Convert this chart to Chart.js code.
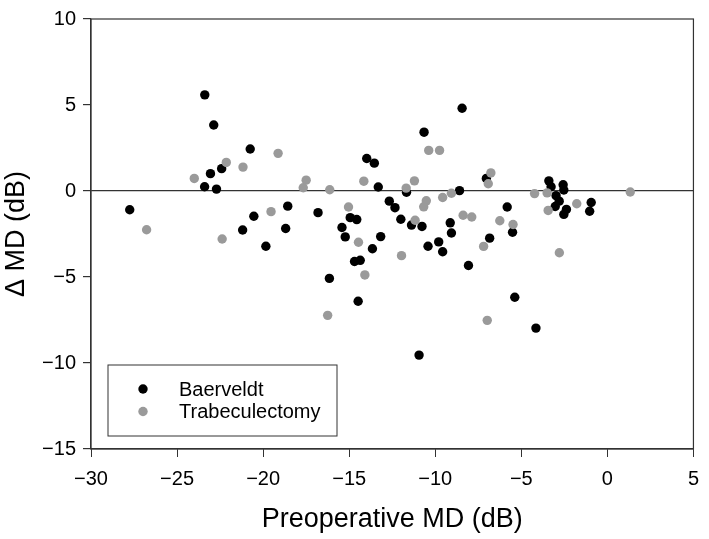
<!DOCTYPE html>
<html lang="en">
<head>
    <meta charset="UTF-8">
    <script src="https://cdn.jsdelivr.net/npm/chart.js"></script>
    <title>Preoperative MD vs change in MD</title>
    <style>
        body {
            margin: 0;
            background: #fff;
        }
    </style>
</head>

<body>
    <canvas id="mdChart" width="709" height="539"></canvas>

    <script>
        // values
        const baerveldtX = [-23.39, -22.87, -20.75, -23.06, -22.41, -23.40, -22.71, -27.75, -18.57, -20.54,
            -21.19, -18.69, -19.84, -8.44, -10.65, -13.98, -13.54, -13.31, -11.67, -8.59,
            -7.03, -16.81, -12.67, -12.34, -14.94, -14.56, -12.00, -15.42, -15.23, -13.17,
            -11.38, -10.77, -9.13, -9.06, -13.65, -10.42, -9.80, -9.57, -6.84, -14.69,
            -14.36, -8.07, -16.15, -14.48, -10.94, -3.40, -2.57, -2.53, -3.27, -2.98,
            -2.80, -3.03, -2.38, -2.53, -0.94, -1.03, -5.82, -5.51, -5.38, -4.15];
        const baerveldtY = [5.59, 3.84, 2.44, 1.01, 1.30, 0.25, 0.11, -1.09, -0.88, -1.47,
            -2.27, -2.18, -3.21, 4.81, 3.42, 1.89, 1.62, 0.23, -0.07, 0.02,
            0.73, -1.26, -0.59, -0.97, -1.55, -1.66, -1.64, -2.12, -2.67, -2.65,
            -1.98, -2.06, -1.85, -2.44, -3.36, -3.21, -2.96, -3.53, -2.74, -4.10,
            -4.03, -4.33, -5.08, -6.41, -9.54, 0.59, 0.36, 0.06, 0.25, -0.27,
            -0.59, -0.90, -1.07, -1.36, -0.67, -1.18, -0.93, -2.40, -6.18, -7.97];

        const trabX = [-19.13, -22.14, -21.17, -24.00, -19.54, -26.77, -22.38, -10.38, -9.75, -17.50,
            -17.67, -16.13, -14.15, -11.69, -11.21, -10.52, -10.67, -9.57, -9.06, -6.77,
            -6.92, -15.04, -11.17, -8.38, -7.88, -14.46, -11.96, -7.19, -6.25, -5.48,
            -4.23, -3.50, 1.33, -1.78, -3.44, -2.79, -14.09, -16.25, -6.98];
        const trabY = [2.19, 1.66, 1.39, 0.73, -1.20, -2.25, -2.79, 2.36, 2.36, 0.63,
            0.19, 0.07, 0.57, 0.17, 0.59, -0.57, -0.92, -0.38, -0.13, 1.05,
            0.42, -0.93, -1.70, -1.41, -1.51, -2.98, -3.76, -3.22, -1.73, -1.95,
            -0.15, -0.11, -0.06, -0.74, -1.13, -3.59, -4.88, -7.23, -7.52];

        const seriesNames = ['Baerveldt', 'Trabeculectomy'];
        const xTitle = 'Preoperative MD (dB)';
        const yTitle = '\u0394 MD (dB)';

        const FONT = '"Liberation Sans", Arial, sans-serif';
        const LINE = '#333';

        function toPoints(xs, ys) {
            return xs.map((x, i) => ({ x: x, y: ys[i] }));
        }

        function minusSign(v) {
            return String(v).replace('-', '\u2212');
        }

        // box round the plot plus the legend box inside it
        const framePlugin = {
            id: 'frame',
            afterDraw(chart) {
                const ctx = chart.ctx;
                const a = chart.chartArea;
                ctx.save();
                ctx.strokeStyle = LINE;
                ctx.lineWidth = 1.2;
                ctx.strokeRect(a.left, a.top, a.right - a.left, a.bottom - a.top);

                const bx = a.left + 17, by = a.bottom - 84, bw = 229, bh = 71;
                ctx.fillStyle = '#fff';
                ctx.fillRect(bx, by, bw, bh);
                ctx.lineWidth = 1;
                ctx.strokeRect(bx, by, bw, bh);

                ctx.font = '20px ' + FONT;
                ctx.textBaseline = 'middle';
                chart.data.datasets.forEach((ds, i) => {
                    const cy = by + 24 + i * 22.5;
                    ctx.beginPath();
                    ctx.arc(bx + 35, cy, 4.7, 0, Math.PI * 2);
                    ctx.fillStyle = ds.backgroundColor;
                    ctx.fill();
                    ctx.fillStyle = '#000';
                    ctx.fillText(ds.label, bx + 71, cy + 1);
                });
                ctx.restore();
            }
        };

        const ctx = document.getElementById('mdChart').getContext('2d');
        new Chart(ctx, {
            type: 'scatter',
            data: {
                datasets: [{
                    label: seriesNames[0],
                    data: toPoints(baerveldtX, baerveldtY),
                    backgroundColor: '#000000',
                    borderColor: '#000000',
                    pointRadius: 4.7,
                    borderWidth: 0,
                    order: 1
                }, {
                    label: seriesNames[1],
                    data: toPoints(trabX, trabY),
                    backgroundColor: '#9a9a9a',
                    borderColor: '#9a9a9a',
                    pointRadius: 4.7,
                    borderWidth: 0,
                    order: 0
                }]
            },
            options: {
                responsive: false,
                animation: false,
                layout: {
                    padding: { top: 12, right: 12, left: 0, bottom: 0 }
                },
                plugins: {
                    legend: { display: false },
                    tooltip: { enabled: false }
                },
                scales: {
                    x: {
                        type: 'linear',
                        min: -30,
                        max: 5,
                        afterFit(scale) { scale.height = 90; },
                        ticks: {
                            stepSize: 5,
                            color: '#000',
                            padding: 10,
                            font: { family: FONT, size: 20 },
                            callback: v => minusSign(v)
                        },
                        grid: {
                            drawOnChartArea: false,
                            tickLength: 8,
                            tickColor: LINE
                        },
                        border: { color: LINE, width: 1.2 },
                        title: {
                            display: true,
                            text: xTitle,
                            color: '#000',
                            font: { family: FONT, size: 27 },
                            padding: { top: 0, bottom: 3 }
                        }
                    },
                    y: {
                        type: 'linear',
                        min: -15,
                        max: 10,
                        afterFit(scale) { scale.width = 91; },
                        ticks: {
                            stepSize: 5,
                            color: '#000',
                            padding: 7,
                            font: { family: FONT, size: 20 },
                            callback: v => minusSign(v)
                        },
                        grid: {
                            color: c => (c.tick && c.tick.value === 0) ? LINE : 'rgba(0,0,0,0)',
                            lineWidth: 1.2,
                            tickLength: 8,
                            tickColor: LINE
                        },
                        border: { color: LINE, width: 1.2 },
                        title: {
                            display: true,
                            text: yTitle,
                            color: '#000',
                            font: { family: FONT, size: 27 },
                            padding: { top: 0, bottom: 0 }
                        }
                    }
                }
            },
            plugins: [framePlugin]
        });
    </script>
</body>

</html>
